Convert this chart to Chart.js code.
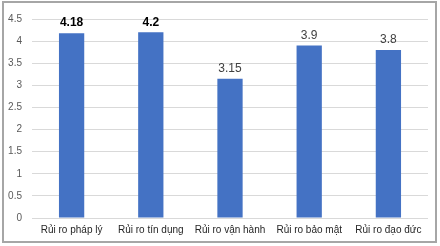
<!DOCTYPE html>
<html>
<head>
<meta charset="utf-8">
<script src="https://cdn.jsdelivr.net/npm/chart.js@4/dist/chart.umd.min.js"></script>
<style>
  html, body { margin: 0; padding: 0; background: #fff; }
  #box {
    position: absolute; left: 2px; top: 1px;
    width: 431px; height: 238px;
    border: 2px solid #a6a6a6;
  }
  canvas { display: block; }
</style>
</head>
<body>
<div id="box"><canvas id="c" width="431" height="238"></canvas></div>
<script>
const categories = ["Rủi ro pháp lý", "Rủi ro tín dụng", "Rủi ro vận hành", "Rủi ro bảo mật", "Rủi ro đạo đức"];
const values = [4.18, 4.2, 3.15, 3.9, 3.8];
const valueLabels = ["4.18", "4.2", "3.15", "3.9", "3.8"];
const boldLabels = [true, true, false, false, false];

const FONT = "'Liberation Sans', Arial, sans-serif";

const valueLabelPlugin = {
    id: "valueLabels",
    afterDatasetsDraw(chart) {
        const ctx = chart.ctx;
        const meta = chart.getDatasetMeta(0);
        ctx.save();
        ctx.textAlign = "center";
        ctx.textBaseline = "bottom";
        meta.data.forEach((bar, i) => {
            if (boldLabels[i]) {
                ctx.font = "bold 12px " + FONT;
                ctx.fillStyle = "#000000";
            } else {
                ctx.font = "12px " + FONT;
                ctx.fillStyle = "#404040";
            }
            ctx.fillText(valueLabels[i], bar.x, bar.y - 4);
        });
        ctx.restore();
    }
};

new Chart(document.getElementById("c"), {
    type: "bar",
    data: {
        labels: categories,
        datasets: [{
            data: values,
            backgroundColor: "#4472c4",
            borderWidth: 0,
            barPercentage: 0.42,
            categoryPercentage: 0.76
        }]
    },
    options: {
        responsive: false,
        animation: false,
        layout: { padding: { left: 0, right: 7, top: 9, bottom: 0 } },
        plugins: {
            legend: { display: false },
            tooltip: { enabled: false }
        },
        scales: {
            x: {
                grid: { display: false, drawTicks: false },
                border: { display: false },
                ticks: {
                    color: "#262626",
                    font: { family: FONT, size: 10 },
                    padding: 6,
                    maxRotation: 0
                },
                afterFit(axis) { axis.height = 23; }
            },
            y: {
                min: 0,
                max: 4.5,
                grid: { color: "#d9d9d9", drawTicks: false },
                border: { display: false },
                ticks: {
                    stepSize: 0.5,
                    color: "#595959",
                    font: { family: FONT, size: 10 },
                    padding: 10,
                    callback: (v) => String(v)
                },
                afterFit(axis) { axis.width = 28; }
            }
        }
    },
    plugins: [valueLabelPlugin]
});
</script>
</body>
</html>
